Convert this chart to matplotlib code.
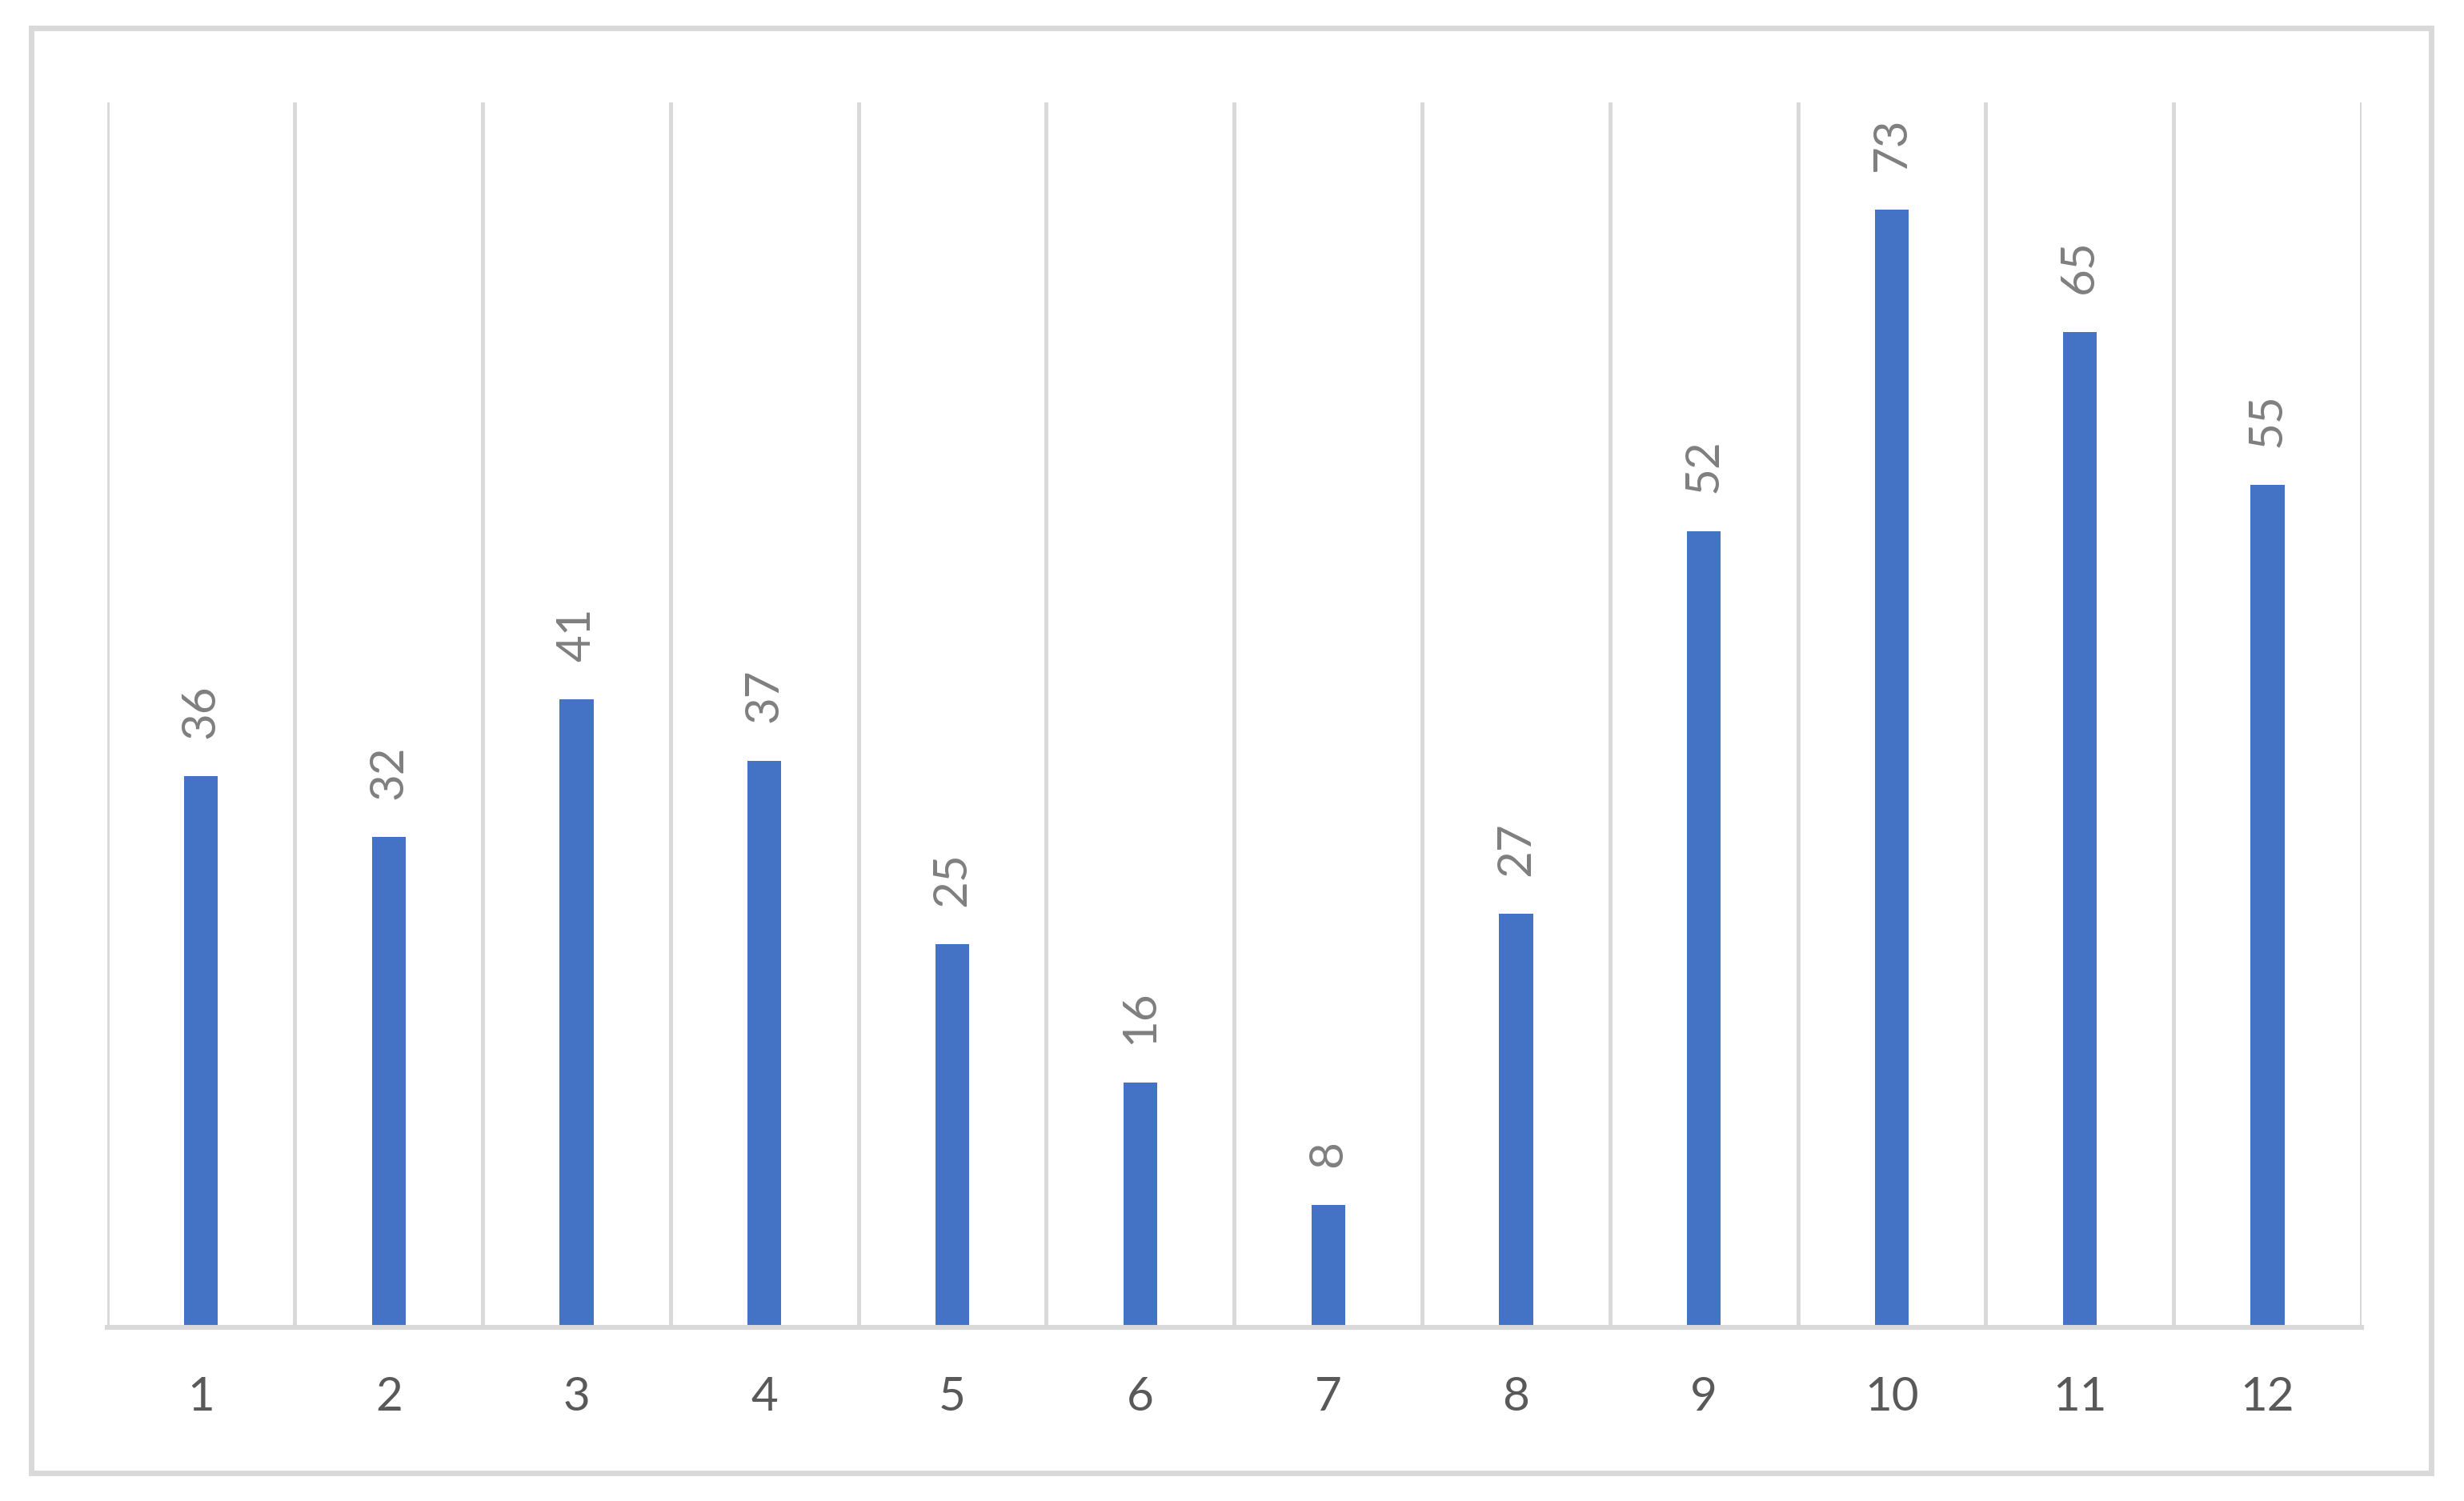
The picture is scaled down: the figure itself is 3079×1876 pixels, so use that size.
import matplotlib.pyplot as plt
from matplotlib.patches import Rectangle

# data
categories = ["1", "2", "3", "4", "5", "6", "7", "8", "9", "10", "11", "12"]
values = [36, 32, 41, 37, 25, 16, 8, 27, 52, 73, 65, 55]

plt.rcParams['font.family'] = ['Lato', 'DejaVu Sans']

fig = plt.figure(figsize=(15.395, 9.38), dpi=200)
ax = fig.add_axes([0.0434, 0.1157, 0.9150, 0.8163])

x = list(range(len(categories)))
bars = ax.bar(x, values, width=0.18, color='#4472C4', zorder=3)

# value labels, rotated
for b, v in zip(bars, values):
    ax.annotate(str(v), (b.get_x() + b.get_width() / 2, b.get_height()),
                xytext=(0, 17), textcoords='offset points',
                rotation=90, ha='center', va='bottom',
                fontsize=21, color='#7f7f7f')

ax.set_xlim(-0.5, len(categories) - 0.5)
ax.set_ylim(0, 80)

# vertical gridlines between categories
for i in range(len(categories) + 1):
    ax.axvline(i - 0.5, color='#d9d9d9', lw=1.8, zorder=1)

ax.set_xticks(x)
ax.set_xticklabels(categories, fontsize=21, color='#595959')
ax.tick_params(axis='x', length=0, pad=22)
ax.set_yticks([])

for side in ['top', 'left', 'right']:
    ax.spines[side].set_visible(False)
ax.spines['bottom'].set_color('#d9d9d9')
ax.spines['bottom'].set_linewidth(2.2)
ax.spines['bottom'].set_zorder(4)

# chart area border
fig.patches.append(Rectangle((0.0128, 0.0189), 0.9738, 0.9623,
                             transform=fig.transFigure, fill=False,
                             edgecolor='#d9d9d9', lw=2.5))

fig.savefig("out.png", dpi=200)
